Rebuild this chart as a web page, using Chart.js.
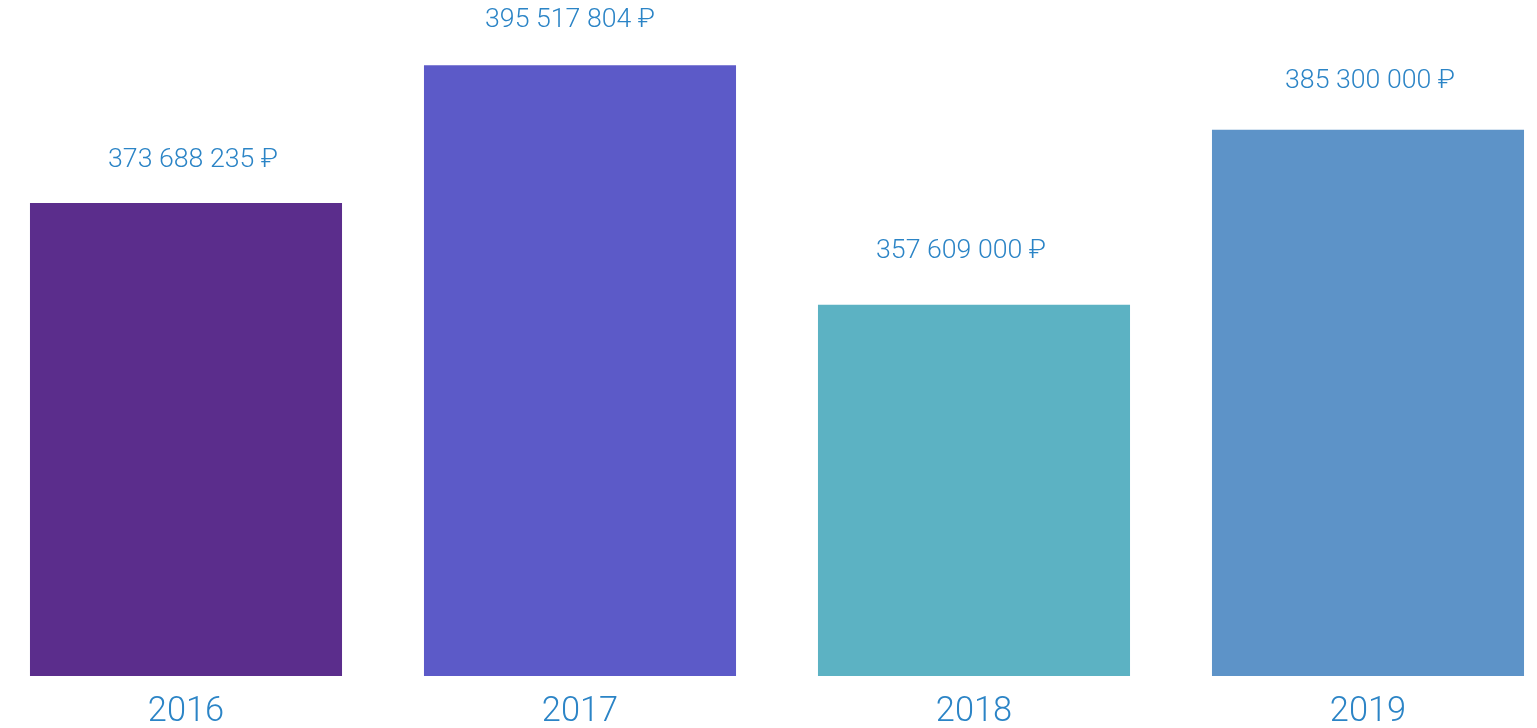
<!DOCTYPE html>
<html>
<head>
<meta charset="utf-8">
<script src="https://cdn.jsdelivr.net/npm/chart.js@4"></script>
<style>
html,body{margin:0;padding:0;background:#fff;overflow:hidden;width:1537px;height:728px}
#wrap{position:absolute;left:-11px;top:0;width:1576px;height:728px}
</style>
</head>
<body>
<div id="wrap"><canvas id="c"></canvas></div>
<script>
const years = ['2016','2017','2018','2019'];
const revenue = [373688235, 395517804, 357609000, 385300000];
const barColors = ['#5b2d8c','#5c5ac8','#5cb2c3','#5d93c8'];
const textColor = '#2b84c6';

function fmt(v){ return String(v).replace(/\B(?=(\d{3})+(?!\d))/g,' ') + ' ₽'; }

// value labels above bars, nudged a bit like in the original
const labelNudge = [[7,-43],[-10,-45],[-13,-53],[2,-48]];
const topLabels = {
  id:'topLabels',
  afterDatasetsDraw(chart){
    const ctx = chart.ctx; const meta = chart.getDatasetMeta(0);
    ctx.save(); ctx.fillStyle = textColor; ctx.font = '300 26.7px Roboto';
    ctx.textAlign = 'center'; ctx.textBaseline = 'middle';
    meta.data.forEach((bar,i)=>{ const n = labelNudge[i]; ctx.fillText(fmt(revenue[i]), bar.x + n[0], bar.y + n[1]); });
    ctx.restore();
  }
};

new Chart(document.getElementById('c'), {
  type:'bar',
  data:{ labels: years, datasets:[{ data: revenue, backgroundColor: barColors, borderWidth:0, barPercentage:0.792, categoryPercentage:1 }] },
  options:{
    responsive:true, maintainAspectRatio:false, animation:false,
    layout:{ padding:0 },
    plugins:{ legend:{display:false}, tooltip:{enabled:false} },
    scales:{
      y:{ display:false, min:298800000, max:405850000 },
      x:{ grid:{display:false}, border:{display:false},
          afterFit(s){ s.height = 52; },
          ticks:{ color:textColor, font:{ family:'Roboto', size:34.4, weight:300 }, padding:8 } }
    }
  },
  plugins:[topLabels]
});
</script>
</body>
</html>
